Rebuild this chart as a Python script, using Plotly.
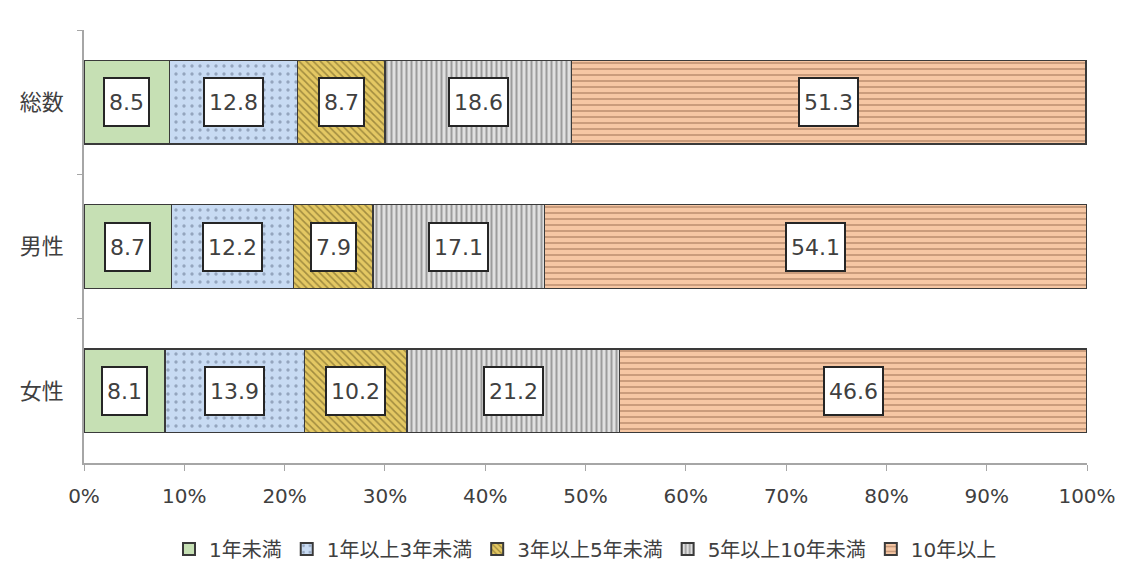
import plotly.graph_objects as go

categories = ["総数", "男性", "女性"]
series_names = ["1年未満", "1年以上3年未満", "3年以上5年未満", "5年以上10年未満", "10年以上"]
values = {
    "1年未満": [8.5, 8.7, 8.1],
    "1年以上3年未満": [12.8, 12.2, 13.9],
    "3年以上5年未満": [8.7, 7.9, 10.2],
    "5年以上10年未満": [18.6, 17.1, 21.2],
    "10年以上": [51.3, 54.1, 46.6],
}
x_ticks = [0, 10, 20, 30, 40, 50, 60, 70, 80, 90, 100]

styles = {
    "1年未満": dict(color="#c6e0b4", pattern=dict(shape="")),
    "1年以上3年未満": dict(color="#c8dbf3",
                          pattern=dict(shape=".", fgcolor="#5f6f8a", size=8, solidity=0.14)),
    "3年以上5年未満": dict(color="#e4c863",
                          pattern=dict(shape="\\", fgcolor="#5e4f1c", size=5, solidity=0.32)),
    "5年以上10年未満": dict(color="#e0e0e0",
                           pattern=dict(shape="|", fgcolor="#555555", size=5, solidity=0.4)),
    "10年以上": dict(color="#f6c7a4",
                    pattern=dict(shape="-", fgcolor="#94684b", size=6, solidity=0.3)),
}

latin_cjk = "DejaVu Sans, Noto Sans CJK JP, sans-serif"
text_color = "#404040"

fig = go.Figure()
for name in series_names:
    st = styles[name]
    fig.add_trace(go.Bar(
        y=categories,
        x=values[name],
        name=name,
        orientation="h",
        width=0.58,
        marker=dict(color=st["color"], pattern=st["pattern"],
                    line=dict(color="#3a3a3a", width=1.5)),
        hoverinfo="x+name",
    ))

# value labels in white boxes at each segment centre
annotations = []
for i, cat in enumerate(categories):
    left = 0.0
    for name in series_names:
        v = values[name][i]
        annotations.append(dict(
            x=left + v / 2, y=cat, xref="x", yref="y",
            text=f"{v:.1f}", showarrow=False,
            font=dict(family=latin_cjk, size=22, color=text_color),
            bgcolor="white", bordercolor="#262626", borderwidth=2,
            borderpad=4, height=38,
        ))
        left += v

fig.update_layout(
    barmode="stack",
    width=1126, height=566,
    margin=dict(l=84, r=39, t=30, b=103, autoexpand=False),
    paper_bgcolor="white", plot_bgcolor="white",
    font=dict(family=latin_cjk, color=text_color),
    annotations=annotations,
    legend=dict(orientation="h", x=0.5, xanchor="center",
                yref="container", y=0.03, yanchor="middle",
                font=dict(family=latin_cjk, size=20, color=text_color),
                traceorder="normal", itemwidth=30, itemsizing="constant",
                tracegroupgap=0),
    bargap=0.42,
)
fig.update_xaxes(
    range=[0, 100], tickvals=x_ticks, ticktext=[f"{t}%" for t in x_ticks],
    showgrid=False, zeroline=False, showline=True, linecolor="#a6a6a6", linewidth=1.5,
    ticks="outside", ticklen=6, tickcolor="#a6a6a6", ticklabelstandoff=8,
    tickfont=dict(family=latin_cjk, size=20, color=text_color),
)
fig.update_yaxes(
    autorange="reversed", showgrid=False, zeroline=False,
    showline=True, linecolor="#a6a6a6", linewidth=1.5,
    ticks="outside", ticklen=5, tickcolor="#a6a6a6", tickson="boundaries",
    ticklabelstandoff=14,
    tickfont=dict(family=latin_cjk, size=22, color=text_color),
)

fig.write_html("out.html")
